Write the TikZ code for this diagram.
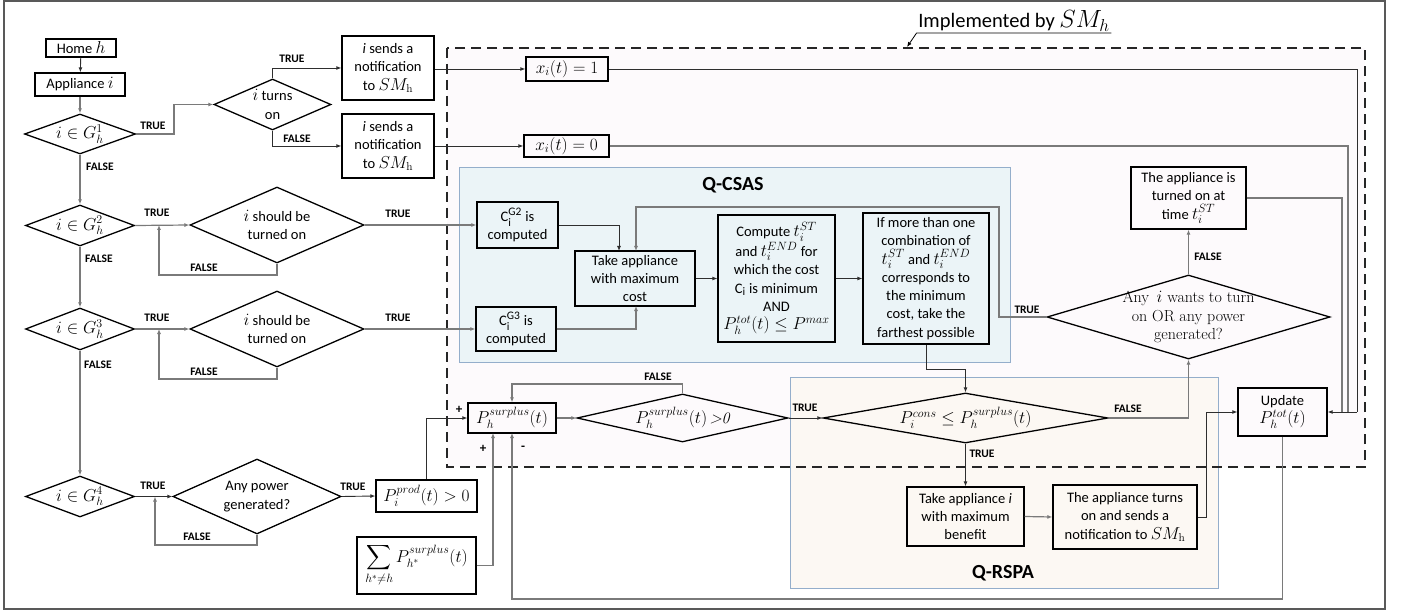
\documentclass[tikz,border=0pt]{standalone}
\usepackage{amsmath}
\usepackage{fontspec}
\setsansfont{Carlito}
\DeclareMathSizes{14.5}{16.5}{11.5}{9}
\DeclareMathSizes{20.5}{23}{16}{12}
\usetikzlibrary{shapes.geometric,arrows.meta}
\definecolor{csas}{HTML}{EBF4F7}
\definecolor{rspa}{HTML}{FCF8F3}
\definecolor{cbord}{HTML}{94AECB}
\definecolor{pinkbg}{HTML}{FDFAFC}
\definecolor{gline}{HTML}{7A7A7A}
\definecolor{dline}{HTML}{2E2E2E}
\begin{document}
\begin{tikzpicture}[x=1pt,y=-1pt,
  font=\sffamily\fontsize{14.5}{18.3}\selectfont,
  box/.style={draw=black, line width=1.3pt, inner sep=1pt, align=center},
  dia/.style={draw=black, line width=1.3pt, diamond, inner sep=0pt},
  dtext/.style={align=center, inner sep=0pt},
  lbl/.style={font=\sffamily\bfseries\fontsize{11.5}{12}\selectfont, inner sep=0pt},
  pm/.style={font=\sffamily\bfseries\fontsize{13}{14}\selectfont, inner sep=0pt},
  conn/.style={draw=dline, line width=0.9pt},
  connG/.style={draw=gline, line width=1.2pt},
  arr/.style={-{Latex[length=5pt,width=4pt]}},
  container/.style={draw=cbord, line width=0.9pt, inner sep=0pt},
  title/.style={font=\sffamily\bfseries\fontsize{20}{22}\selectfont}
]
\useasboundingbox (0,0) rectangle (1402,612);
% outer frame
\draw[draw=black!65, line width=1.2pt] (4,1) rectangle (1385,609);
% dashed region fill
\fill[pinkbg] (447,48) rectangle (1365,467);
% containers
\node[container, fill=csas, minimum width=551pt, minimum height=195pt] (qcsas) at (734.5,264.5) {};
\node[container, fill=rspa, minimum width=428pt, minimum height=211pt] (qrspa) at (1004,482.5) {};
\node[title] (qcsast) at (733,185) {Q-CSAS};
\node[title] (qrspat) at (1003,573) {Q-RSPA};
% dashed border
\draw[black!85, line width=1.6pt, dash pattern=on 10pt off 6pt] (447,48) rectangle (1365,467);
\coordinate (cp) at (907,47);
\node[font=\sffamily\fontsize{20.5}{22}\selectfont, anchor=south, inner sep=1.5pt] (impl) at (1014,33) {Implemented by $SM_h$};
\draw[black, line width=0.8pt, -{Latex[length=5pt,width=4pt]}] (impl.south east) -- (impl.south west) -- (cp);

% left column
\node[box, minimum width=70pt, minimum height=18pt] (home) at (81,48) {Home $h$};
\node[box, minimum width=90pt, minimum height=23pt] (appl) at (80,84.5) {Appliance $i$};
\node[dia, minimum width=111pt, minimum height=40pt] (g1) at (80,134) {};
\node[dtext] (g1t) at (g1) {$i \in G_h^1$};
\node[dia, minimum width=117pt, minimum height=51pt] (ton) at (272.5,104.5) {};
\node[dtext] (tont) at (ton) {$i$ turns\\on};
\node[box, minimum width=92pt, minimum height=64pt] (n1) at (388,68) {\textit{i} sends a\\notification\\to $SM_{\mathrm{h}}$};
\node[box, minimum width=92pt, minimum height=64pt] (n2) at (388,146) {\textit{i} sends a\\notification\\to $SM_{\mathrm{h}}$};
\node[box, minimum width=82pt, minimum height=24pt] (x1) at (567,69) {$x_i(t) = 1$};
\node[box, minimum width=85pt, minimum height=22pt] (x0) at (566.5,146) {$x_i(t) = 0$};

\node[dia, minimum width=109pt, minimum height=41pt] (g2) at (80,225.5) {};
\node[dtext] (g2t) at (g2) {$i \in G_h^2$};
\node[dia, minimum width=174pt, minimum height=76pt] (s2) at (277,225) {};
\node[dtext] (s2t) at (s2) {$i$ should be\\turned on};
\node[dia, minimum width=109pt, minimum height=42pt] (g3) at (80,329) {};
\node[dtext] (g3t) at (g3) {$i \in G_h^3$};
\node[dia, minimum width=174pt, minimum height=76pt] (s3) at (277,329) {};
\node[dtext] (s3t) at (s3) {$i$ should be\\turned on};
\node[dia, minimum width=109pt, minimum height=41pt] (g4) at (80,496.5) {};
\node[dtext] (g4t) at (g4) {$i \in G_h^4$};
\node[dia, minimum width=168pt, minimum height=75pt] (anyp) at (257,496.5) {};
\node[dtext] (anypt) at (anyp) {Any power\\generated?};
\node[box, minimum width=101pt, minimum height=32pt] (pprod) at (426.5,496) {$P_i^{prod}(t) > 0$};
\node[box, minimum width=119pt, minimum height=57pt, inner sep=0pt] (sum) at (416.5,565.5) {$\displaystyle\sum_{h^*\neq h} P_{h^*}^{surplus}(t)$};

% Q-CSAS
\node[box, minimum width=81pt, minimum height=46pt] (cg2) at (517.5,225) {C$_{\text{i}}^{\text{G2}}$ is\\computed};
\node[box, minimum width=80pt, minimum height=44pt] (cg3) at (516,329) {C$_{\text{i}}^{\text{G3}}$ is\\computed};
\node[box, minimum width=120pt, minimum height=55pt] (take) at (635,278.5) {Take appliance\\with maximum\\cost};
\node[box, minimum width=117pt, minimum height=127pt, inner sep=0pt] (comp) at (776.5,278.5) {Compute $t_i^{ST}$\\and $t_i^{END}$ for\\which the cost\\C$_{\text{i}}$ is minimum\\AND\\$P_h^{tot}(t) \le P^{max}$};
\node[box, minimum width=126pt, minimum height=131pt, inner sep=0pt] (ifm) at (926,278.5) {If more than one\\combination of\\$t_i^{ST}$ and $t_i^{END}$\\corresponds to\\the minimum\\cost, take the\\farthest possible};

% right part
\node[box, minimum width=115pt, minimum height=62pt] (appon) at (1188.5,198) {The appliance is\\turned on at\\time $t_i^{ST}$};
\node[dia, minimum width=283pt, minimum height=84pt] (anyi) at (1188.5,317) {};
\node[dtext, font=\rmfamily\fontsize{16}{18.5}\selectfont] (anyit) at (anyi) {Any \,$i$ wants to turn\\on OR any power\\generated?};
\node[box, minimum width=89pt, minimum height=48pt] (upd) at (1282.5,412) {Update\\$P_h^{tot}(t)$};

% bottom middle
\node[box, minimum width=88pt, minimum height=30pt] (psur) at (512,418) {$P_h^{surplus}(t)$};
\node[dia, minimum width=211pt, minimum height=48pt] (dpos) at (682.5,418) {};
\node[dtext] (dpost) at (dpos) {$P_h^{surplus}(t)$\,{\rmfamily\itshape\fontsize{16}{18}\selectfont >0}};
\node[dia, minimum width=285pt, minimum height=50pt] (dcons) at (965.5,418) {};
\node[dtext] (dconst) at (dcons) {$P_i^{cons} \le P_h^{surplus}(t)$};
\node[box, minimum width=117pt, minimum height=59pt] (takei) at (965.5,516.5) {Take appliance \textit{i}\\with maximum\\benefit};
\node[box, minimum width=144pt, minimum height=64pt] (turns) at (1125,517) {The appliance turns\\on and sends a\\notification to $SM_{\mathrm{h}}$};

% ---------- connectors ----------
\draw[conn,arr] (home) -- (appl);
\draw[connG,arr] (appl) -- (g1);
\draw[connG,arr] (g1.east) -- (174,134) -- (174,104.5) -- (ton.west);
\node[lbl] (l1) at (153,126) {TRUE};
\draw[conn,arr] (ton.north) |- (n1.west);
\node[lbl] (l2) at (292,59) {TRUE};
\draw[conn,arr] (ton.south) |- (n2.west);
\node[lbl] (l3) at (297,139) {FALSE};
\draw[connG,arr] (g1) -- (g2);
\node[lbl] (l4) at (100,167) {FALSE};
\draw[connG,arr] (g2.east) -- (s2.west);
\node[lbl] (l5) at (157,213) {TRUE};
\draw[connG,arr] (s2.south) -- (277,275) -- (159,275) -- (159,225);
\node[lbl] (l6) at (204,268) {FALSE};
\draw[connG,arr] (s2.east) -- (cg2.west);
\node[lbl] (l7) at (398,214) {TRUE};
\draw[connG,arr] (g2) -- (g3);
\node[lbl] (l8) at (99,259) {FALSE};
\draw[connG,arr] (g3.east) -- (s3.west);
\node[lbl] (l9) at (157,318) {TRUE};
\draw[connG,arr] (s3.south) -- (277,379) -- (159,379) -- (159,329);
\node[lbl] (l10) at (204,372) {FALSE};
\draw[connG,arr] (s3.east) -- (cg3.west);
\node[lbl] (l11) at (398,318) {TRUE};
\draw[connG,arr] (g3) -- (g4);
\node[lbl] (l12) at (98,365) {FALSE};
\draw[conn,arr] (g4.east) -- (anyp.west);
\node[lbl] (l13) at (153,486) {TRUE};
\draw[connG,arr] (anyp.south) -- (257,545) -- (155,545) -- (155,496.5);
\node[lbl] (l14) at (197,537) {FALSE};
\draw[conn,arr] (anyp.east) -- (pprod.west);
\node[lbl] (l15) at (353,487) {TRUE};
\draw[conn,arr] (pprod.north) -- (426.5,418) -- (psur.west);
\node[pm] (pl1) at (459,410) {+};
\draw[connG,arr] (sum.east) -- (493,565.5) -- (493,433);
\node[pm] (pl2) at (483,449) {+};
\draw[connG,arr] (upd.south) -- (1282.5,599) -- (512,599) -- (512,433);
\node[pm] (mi1) at (523,448) {-};
\draw[connG,arr] (psur.east) -- (dpos.west);
\draw[connG,arr] (dpos.north) -- (682.5,384) -- (512,384) -- (psur.north);
\node[lbl] (l16) at (658,377) {FALSE};
\draw[conn,arr] (dpos.east) -- (dcons.west);
\node[lbl] (l17) at (805,408) {TRUE};
\draw[conn,arr] (dcons.south) -- (takei.north);
\node[lbl] (l18) at (982,454) {TRUE};
\draw[connG,arr] (dcons.east) -- (1188.5,418) -- (anyi.south);
\node[lbl] (l19) at (1128,409) {FALSE};
\draw[connG,arr] (takei.east) -- (turns.west);
\draw[conn,arr] (turns.east) -- (1206,517) -- (1206,412) -- (upd.west);
\draw[connG,arr] (anyi.north) -- (appon.south);
\node[lbl] (l20) at (1208,257) {FALSE};
\draw[connG,arr] (anyi.west) -- (999,317) -- (999,207) -- (636,207) -- (636,251);
\node[lbl] (l21) at (1027,310) {TRUE};
\draw[conn,arr] (cg2.east) -- (619,225) -- (619,251);
\draw[connG,arr] (cg3.east) -- (636,329) -- (636,306);
\draw[conn,arr] (take.east) -- (comp.west);
\draw[conn,arr] (comp.east) -- (ifm.west);
\draw[conn,arr] (ifm.south) -- (926,369) -- (965.5,369) -- (dcons.north);
\draw[conn,arr] (n1.east |- x1.west) -- (x1.west);
\draw[conn,arr] (n2.east |- x0.west) -- (x0.west);
\draw[conn] (x1.east) -- (1357,69) -- (1357,412);
\draw[connG] (x0.east) -- (1348,146) -- (1348,412);
\draw[connG] (appon.east) -- (1342,198) -- (1342,412);
\draw[conn,arr] (1357,412) -- (upd.east);
\end{tikzpicture}
\end{document}
